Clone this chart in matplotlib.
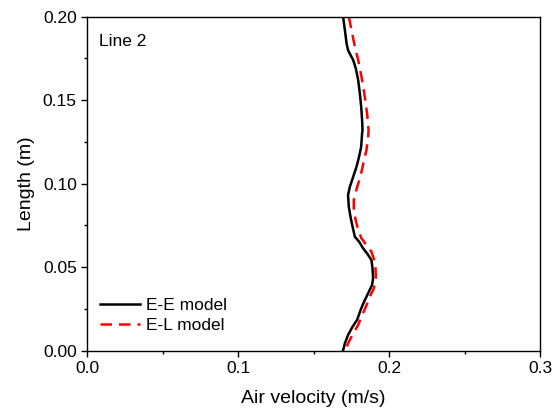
import matplotlib
matplotlib.use("Agg")
import matplotlib.pyplot as plt
from matplotlib.ticker import MultipleLocator, FormatStrFormatter

plt.rcParams['font.family'] = ['Liberation Sans', 'DejaVu Sans']

# E-E model (black solid)
ee_length = [0.200, 0.1920, 0.1841, 0.1800, 0.1771, 0.1741, 0.1691, 0.1621, 0.1541, 0.1461,
             0.1381, 0.1321, 0.1301, 0.1221, 0.1161, 0.1101, 0.1041, 0.0981, 0.0932, 0.0862,
             0.0802, 0.0742, 0.0682, 0.0652, 0.0612, 0.0582, 0.0542, 0.0493, 0.0433, 0.0392,
             0.0343, 0.0292, 0.0243, 0.0183, 0.0143, 0.0093, 0.0043, 0.000]
ee_vel = [0.1695, 0.1707, 0.1718, 0.1728, 0.1744, 0.1762, 0.1779, 0.1795, 0.1806, 0.1815,
          0.1821, 0.1824, 0.1821, 0.1815, 0.1801, 0.1784, 0.1762, 0.1740, 0.1728, 0.1733,
          0.1744, 0.1758, 0.1773, 0.1801, 0.1828, 0.1854, 0.1883, 0.1890, 0.1894, 0.1887,
          0.1861, 0.1834, 0.1811, 0.1788, 0.1758, 0.1728, 0.1707, 0.1695]

# E-L model (red dashed)
el_length = [0.200, 0.1920, 0.1820, 0.1741, 0.1640, 0.1521, 0.1421, 0.1321, 0.1281, 0.1201,
             0.1141, 0.1071, 0.1011, 0.0951, 0.0902, 0.0842, 0.0782, 0.0722, 0.0672, 0.0632,
             0.0592, 0.0542, 0.0493, 0.0433, 0.0373, 0.0322, 0.0262, 0.0203, 0.0153, 0.0103,
             0.0043, 0.000]
el_vel = [0.1733, 0.1751, 0.1773, 0.1795, 0.1817, 0.1839, 0.1854, 0.1864, 0.1861, 0.1850,
          0.1834, 0.1817, 0.1799, 0.1779, 0.1766, 0.1766, 0.1778, 0.1795, 0.1817, 0.1850,
          0.1883, 0.1901, 0.1910, 0.1912, 0.1899, 0.1872, 0.1846, 0.1817, 0.1795, 0.1762,
          0.1728, 0.1713]

fig = plt.figure(figsize=(5.57, 4.08), dpi=100)
ax = fig.add_axes([0.1567, 0.1409, 0.8128, 0.8181])

ax.plot(ee_vel, ee_length, color='black', lw=1.8, label='E-E model')
ax.plot(el_vel, el_length, color='red', lw=1.8, ls=(0, (4.6, 2.8)), label='E-L model')

ax.set_xlim(0, 0.3)
ax.set_ylim(0, 0.2)
ax.xaxis.set_major_locator(MultipleLocator(0.1))
ax.xaxis.set_minor_locator(MultipleLocator(0.05))
ax.yaxis.set_major_locator(MultipleLocator(0.05))
ax.yaxis.set_minor_locator(MultipleLocator(0.025))
ax.xaxis.set_major_formatter(FormatStrFormatter('%.1f'))
ax.yaxis.set_major_formatter(FormatStrFormatter('%.2f'))
ax.tick_params(which='major', direction='out', length=4.5, width=1, labelsize=12.5, pad=3)
ax.tick_params(which='minor', direction='out', length=2.5, width=1)
for s in ax.spines.values():
    s.set_linewidth(1.0)

ax.set_xlabel('Air velocity (m/s)', fontsize=14, labelpad=10)
ax.set_ylabel('Length (m)', fontsize=14, labelpad=6)
ax.text(0.026, 0.925, 'Line 2', transform=ax.transAxes, fontsize=12.5, va='center')
ax.legend(loc='center left', frameon=False, fontsize=12.5, handlelength=2.3,
          handletextpad=0.35, labelspacing=0.3, borderpad=0, borderaxespad=0,
          bbox_to_anchor=(0.028, 0.105))

fig.savefig('out.png', dpi=100)
